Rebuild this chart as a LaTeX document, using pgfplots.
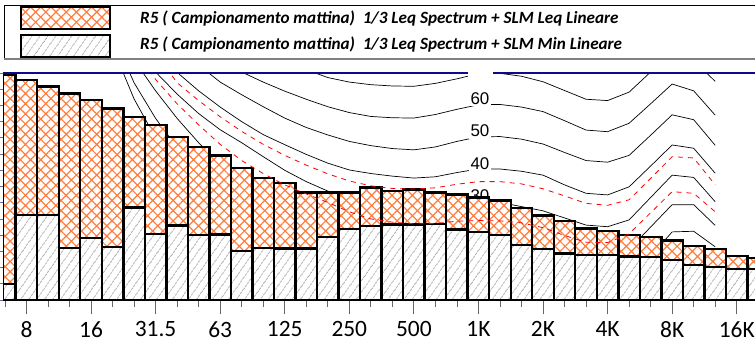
\documentclass[border=0pt]{standalone}
\usepackage{fontspec}
\setmainfont{Carlito}
\newfontfamily\arialf{Liberation Sans}
\usepackage{pgfplots}
\pgfplotsset{compat=1.18}
\usepackage{pgfplotstable}
\usetikzlibrary{patterns.meta}

\definecolor{navyax}{RGB}{10,10,140}
\definecolor{hatchor}{RGB}{255,125,60}
\definecolor{hatchgr}{RGB}{180,180,180}
\definecolor{axgrey}{RGB}{110,110,150}

\tikzset{
 orbar/.style={draw=black, line width=2.4bp, preaction={fill=white}, pattern={Hatch[angle=45,distance=7.2bp,line width=1.2bp]}, pattern color=hatchor},
 grbar/.style={draw=black, line width=2.4bp, preaction={fill=white}, pattern={Lines[angle=55,distance=6bp,line width=0.8bp]}, pattern color=hatchgr},
 curve/.style={sharp plot, no marks, black, line width=0.7bp},
 rcurve/.style={sharp plot, no marks, red, dash pattern=on 5bp off 5bp, line width=0.8bp},
 clab/.style={fill=white, inner sep=1.5bp, font=\arialf\fontsize{17}{19}\selectfont},
}

% band edges (band k spans k-0.5 .. k+0.5; 8 Hz = 0, 1 kHz = 21, 16 kHz = 33)
\pgfplotstableread{
x      leq   mn
-1.09  69.4  4.9
-0.5   67.8  26.2
0.5    65.8  26.2
1.5    63.7  16.1
2.5    61.7  19.2
3.5    59.1  16.4
4.5    56.5  28.5
5.5    54.0  20.3
6.5    50.3  23.0
7.5    47.1  20.1
8.5    44.6  20.2
9.5    40.7  15.2
10.5   37.7  16.1
11.5   36.1  15.9
12.5   33.1  15.9
13.5   33.1  19.4
14.5   33.1  21.9
15.5   34.7  22.9
16.5   33.7  23.3
17.5   34.1  23.3
18.5   33.1  23.4
19.5   32.5  21.8
20.5   31.6  21.0
21.5   30.7  20.1
22.5   28.4  17.0
23.5   26.0  15.8
24.5   24.3  14.4
25.5   22.0  13.8
26.5   21.3  13.8
27.5   20.1  13.4
28.5   19.4  13.2
29.5   18.4  12.3
30.5   16.7  10.8
31.5   15.8  10.2
32.5   13.5  9.6
33.5   13.0  9.6
34.5   13.0  9.6
}\bars

\pgfplotstableread{
i   thr   p10   p20   p30   rl    p40   ru    p50   p60   p70
3   95    100   105   110   110   115   115   120   125   130
4   78    82    88    100   95    105   105   110   115   120
5   62    67    74    80    78    95    90    105   110   115
6   50    56    64.5  70.3  68    78    76    92    100   110
7   40    47    56    63.5  60.5  70.2  67    80    92    105
8   32    39.5  48.5  57.5  54    64.5  61.5  72.5  80    100
9   25.5  33    42    52.5  48    59.5  56.5  67.2  74.5  95
10  20    27.5  36.5  48.5  43    55.0  52    63.3  70.3  85
11  15.5  23    32    44.2  39    51.0  48    59.6  67.2  79
12  12    19.3  28.3  40.0  35.5  47.9  44.6  56.1  64.4  74.5
13  9     16.2  25.2  36.5  32.7  44.9  41.6  53.2  61.9  71
14  6.6   13.8  22.8  33.6  30.1  42.2  38.9  50.9  59.6  68.6
15  4.8   11.9  20.9  31.4  27.2  40.1  36.7  48.9  57.8  67.2
16  3.5   10.6  19.6  29.8  25.0  39.0  35.2  47.6  56.6  66.4
17  2.6   9.8   18.8  28.9  24.0  38.2  34.4  46.7  56.2  66.0
18  2.2   9.5   18.5  28.5  23.5  37.6  34.2  46.3  56.1  65.9
19  2.5   9.8   18.8  28.8  23.6  38.0  34.6  47.2  57.2  66.8
20  2.8   10.2  19.4  29.5  24.3  39.3  35.7  48.9  58.8  68.2
21  2.5   10.0  20.0  30.0  24.5  40.4  36.5  50.3  60.2  69.8
22  2.5   10.1  20.1  30.1  24.4  40.4  36.5  50.4  60.3  69.9
23  1.5   9.3   19.3  28.8  23.8  39.7  35.8  49.6  59.5  69.0
24  0     7.8   17.8  27.5  22.3  38.5  34.3  48.1  58.1  67.3
25  -2    5.3   15.3  25.3  19.9  35.5  32.1  45.5  55.3  64.6
26  -4    2.8   12.8  23.1  17.8  32.9  29.8  43.0  52.4  61.9
27  -4.5  2.3   12.3  22.6  17.7  32.4  29.2  42.5  51.9  61.5
28  -2    6.0   15.6  24.7  20.4  34.9  30.9  44.6  54.5  64.1
29  4     13.5  22.5  31.6  26.9  41.3  37.5  50.8  60.5  70.3
30  11    21.0  29.4  38.5  33.4  47.8  44.2  57.1  66.6  76.5
31  12.5  21.2  29.4  37.8  32.9  46.8  43.8  55.6  64.5  74.0
32  9.5   16.4  23.0  30.3  27.2  39.1  35.5  47.7  57.0  67.4
}\curves

\begin{document}
\begin{tikzpicture}
\useasboundingbox (0,0) rectangle (755bp,343bp);
\clip (0,0) rectangle (755bp,343bp);
\fill[white] (0,0) rectangle (755bp,343bp);

% legend
\begin{scope}[x=1bp,y=1bp]
\draw[black, line width=0.8] (4,283.7) -- (4,338) -- (780,338);
\draw[gray, line width=2] (4,283.7) -- (780,283.7);
\path[orbar] (21,313.7) rectangle (110,335.7);
\path[grbar] (21,286) rectangle (110,308);
\node[anchor=base west, inner sep=0, font=\fontsize{17.2}{19}\selectfont\bfseries\itshape] at (140,319.7) {R5 ( Campionamento mattina)\ \ 1/3 Leq Spectrum + SLM Leq Lineare};
\node[anchor=base west, inner sep=0, font=\fontsize{17.2}{19}\selectfont\bfseries\itshape] at (140,293.7) {R5 ( Campionamento mattina)\ \ 1/3 Leq Spectrum + SLM Min Lineare};
\end{scope}

\begin{axis}[
  at={(3bp,43bp)}, anchor=south west, scale only axis,
  width=774.6bp, height=227bp,
  xmin=-1.09, xmax=34.9, ymin=0, ymax=70,
  axis x line*=bottom, axis y line*=left,
  x axis line style={draw=navyax, line width=1.3bp},
  y axis line style={draw=axgrey, line width=0.8bp},
  tick align=outside,
  xtick={0,3,...,33},
  xticklabels={8,16,31.5,63,125,250,500,1K,2K,4K,8K,16K},
  minor xtick={-1,0,...,34},
  ytick={0,5,...,70}, yticklabels={},
  major tick length=14bp, minor tick length=7bp,
  x tick style={gray!80!black, line width=0.8bp},
  y tick style={axgrey, line width=0.8bp},
  xticklabel style={font=\fontsize{23.5}{26}\selectfont, anchor=north, inner sep=0pt, yshift=-7bp},
]
% equal-loudness contours (behind the bars)
\addplot[curve] table[x=i, y=thr] {\curves};
\addplot[curve] table[x=i, y=p10] {\curves};
\addplot[curve] table[x=i, y=p20] {\curves};
\addplot[curve] table[x=i, y=p30] {\curves};
\addplot[curve] table[x=i, y=p40] {\curves};
\addplot[curve] table[x=i, y=p50] {\curves};
\addplot[curve] table[x=i, y=p60] {\curves};
\addplot[curve] table[x=i, y=p70] {\curves};
% contour labels
\node[clab] at (axis cs:21.07,62.1) {60};
\node[clab] at (axis cs:21.07,52.1) {50};
\node[clab] at (axis cs:21.07,42.1) {40};
\node[clab] at (axis cs:21.07,32.1) {30};
% bars
\addplot[/tikz/ybar interval, orbar] table[x=x, y=leq] {\bars};
\addplot[/tikz/ybar interval, grbar] table[x=x, y=mn] {\bars};
% red dashed curves (over the bars)
\addplot[rcurve] table[x=i, y=ru] {\curves};
\addplot[rcurve] table[x=i, y=rl] {\curves};
\end{axis}

\draw[navyax, line width=2.6bp] (3bp,270bp) -- (780bp,270bp);
\fill[white] (468bp,265bp) rectangle (493bp,275bp);
\end{tikzpicture}
\end{document}
